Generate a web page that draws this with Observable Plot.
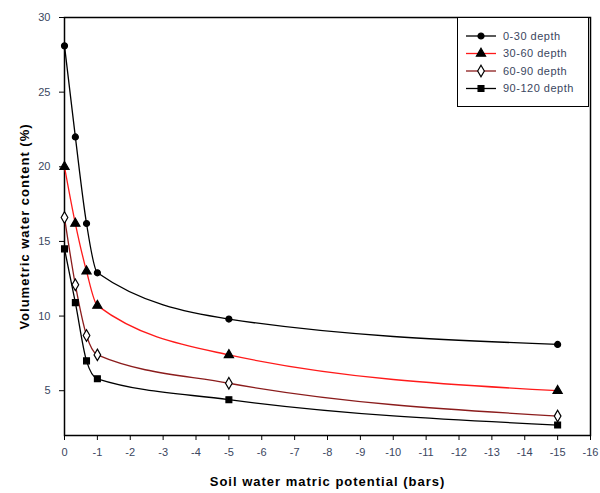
<!DOCTYPE html>
<html>
<head>
<meta charset="utf-8">
<script src="https://cdn.jsdelivr.net/npm/d3@7"></script>
<script src="https://cdn.jsdelivr.net/npm/@observablehq/plot@0.6"></script>
<style>
  html, body { margin: 0; padding: 0; background: #fff; }
  #wrap { position: relative; width: 600px; height: 493px; font-family: "Liberation Sans", Arial, sans-serif; }
  #legend { position: absolute; left: 457px; top: 17px; width: 132px; height: 90px; border: 1px solid #000; background: #fff; box-sizing: border-box; }
</style>
</head>
<body>
<div id="wrap"><div id="legend"></div></div>
<script>
const depths = ["0-30 depth", "30-60 depth", "60-90 depth", "90-120 depth"];
const potentials = [0, -0.33, -0.67, -1, -5, -15];
const wc0_30 = [28.1, 22.0, 16.2, 12.9, 9.8, 8.1];
const wc30_60 = [20.0, 16.2, 13.0, 10.7, 7.4, 5.0];
const wc60_90 = [16.6, 12.1, 8.7, 7.4, 5.5, 3.3];
const wc90_120 = [14.5, 10.9, 7.0, 5.8, 4.4, 2.7];
const xTicks = d3.range(0, -17, -1);
const yTicks = [5, 10, 15, 20, 25, 30];

const seriesValues = [wc0_30, wc30_60, wc60_90, wc90_120];
const lineColors = ["#000000", "#ff1a1a", "#8b1c1c", "#000000"];
const symbols = ["circle", "triangle", "diamond", "square"];
const fills = ["#000", "#000", "#fff", "#000"];
const radii = [3.0, 3.4, 3.5, 3.3];

const data = [];
depths.forEach((d, i) => potentials.forEach((p, j) => data.push({depth: d, x: p, y: seriesValues[i][j], i})));

const marks = [];
depths.forEach((d, i) => {
  const rows = data.filter(r => r.i === i);
  marks.push(Plot.line(rows, {x: "x", y: "y", stroke: lineColors[i], strokeWidth: 1.3, curve: "monotone-x"}));
});
depths.forEach((d, i) => {
  const rows = data.filter(r => r.i === i);
  marks.push(Plot.dot(rows, {x: "x", y: "y", symbol: () => symbols[i], fill: fills[i], stroke: "#000", strokeWidth: 1.2, r: radii[i]}));
});

const chart = Plot.plot({
  width: 600,
  height: 493,
  marginLeft: 64,
  marginRight: 10,
  marginTop: 17,
  marginBottom: 58,
  style: {fontFamily: "Liberation Sans, Arial, sans-serif", fontSize: "11px", color: "#000", background: "transparent"},
  symbol: {domain: symbols, range: symbols},
  x: {domain: [0, -16]},
  y: {domain: [2, 30]},
  marks: [
    Plot.frame({stroke: "#000", strokeWidth: 1.5}),
    Plot.axisX({ticks: xTicks, tickFormat: d => String(d), tickSize: 5, tickPadding: 8, fill: "#3a4660",
      label: "Soil water matric potential (bars)", labelAnchor: "center", labelArrow: "none", labelOffset: 50}),
    Plot.axisY({ticks: yTicks, tickFormat: d => String(d), tickSize: 5, tickPadding: 9, fill: "#3a4660",
      label: "Volumetric water content (%)", labelAnchor: "center", labelArrow: "none", labelOffset: 45}),
    ...marks
  ]
});

chart.querySelectorAll('g[aria-label="x-axis label"], g[aria-label="y-axis label"]').forEach(g => {
  g.setAttribute("font-weight", "bold");
  g.setAttribute("font-size", "13px");
  g.setAttribute("letter-spacing", "1");
  g.setAttribute("fill", "#000");
});

const wrap = document.getElementById("wrap");
wrap.insertBefore(chart, wrap.firstChild);

// Legend
const leg = d3.select("#legend").append("svg").attr("width", 130).attr("height", 88);
const symGen = [d3.symbolCircle, d3.symbolTriangle, d3.symbolDiamond, d3.symbolSquare];
depths.forEach((d, i) => {
  const y = 18 + i * 17.5;
  const g = leg.append("g");
  g.append("line").attr("x1", 8).attr("x2", 38).attr("y1", y).attr("y2", y)
    .attr("stroke", lineColors[i]).attr("stroke-width", 1.3);
  const area = Math.PI * radii[i] * radii[i];
  g.append("path").attr("d", d3.symbol(symGen[i], area)())
    .attr("transform", `translate(23,${y})`)
    .attr("fill", fills[i]).attr("stroke", "#000").attr("stroke-width", 1.2);
  g.append("text").attr("x", 45).attr("y", y).attr("dy", "0.35em")
    .attr("font-size", "11px").attr("font-family", "Liberation Sans, Arial, sans-serif")
    .attr("letter-spacing", "0.5")
    .attr("fill", "#3a4660").text(d);
});
</script>
</body>
</html>
